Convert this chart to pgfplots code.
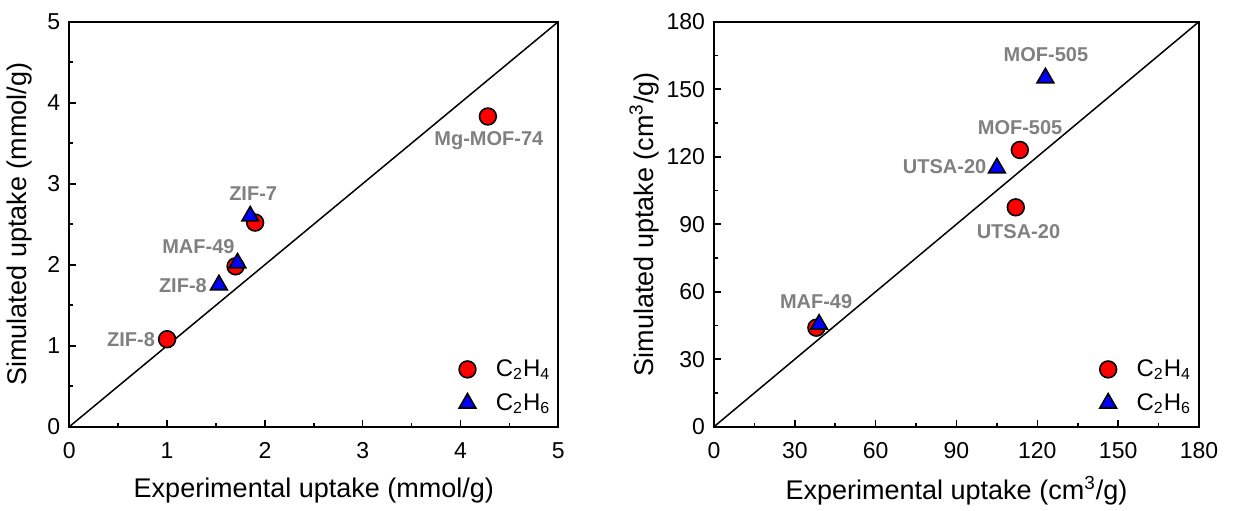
\documentclass[border=0pt]{standalone}
\usepackage{pgfplots}
\pgfplotsset{compat=1.18}
\usepackage{fontspec}
\setmainfont{Liberation Sans}
\definecolor{lblgray}{RGB}{128,128,128}
\definecolor{ptred}{RGB}{255,0,0}
\definecolor{ptblue}{RGB}{0,0,255}

\tikzset{lbl/.style={text=lblgray, font=\fontsize{10}{12}\selectfont\bfseries, inner sep=0pt}}
\pgfplotsset{
  uptake/.style={
    scale only axis,
    anchor=south west,
    height=202.5pt,
    axis line style={line width=1pt},
    tick align=inside,
    xtick pos=bottom, ytick pos=left,
    major tick length=3.5pt, minor tick length=2pt,
    every tick/.style={black, line width=0.8pt},
    minor tick num=1,
    /pgf/number format/assume math mode=true,
    tick label style={font=\fontsize{11.5}{13}\selectfont},
    xticklabel style={yshift=-4.5pt},
    yticklabel style={xshift=-1pt},
    label style={font=\fontsize{13.5}{15}\selectfont},
    xlabel style={at={(axis description cs:0.5,0)}, anchor=center, yshift=-32pt},
    ylabel style={at={(axis description cs:0,0.5)}, anchor=center},
    legend style={draw=none, fill=none, at={(1.005,0.013)}, anchor=south east,
      font=\fontsize{12}{14}\selectfont, row sep=3pt, column sep=8pt},
    legend cell align=left,
    clip=false,
  },
  c2h4/.style={only marks, mark=*, mark size=4.2pt,
    mark options={fill=ptred, draw=black, line width=0.8pt}},
  c2h6/.style={only marks, mark=triangle*, mark size=4.8pt,
    mark options={fill=ptblue, draw=black, line width=0.8pt}},
}

\begin{document}
\begin{tikzpicture}
\path[use as bounding box] (0,0) rectangle (622pt,255pt);

% left: mmol/g
\begin{axis}[uptake,
  at={(34.65pt,41.65pt)}, width=244.5pt,
  xmin=0, xmax=5, ymin=0, ymax=5,
  xtick={0,1,2,3,4,5}, ytick={0,1,2,3,4,5},
  xlabel={Experimental uptake (mmol/g)},
  ylabel={Simulated uptake (mmol/g)},
  ylabel style={yshift=25pt},
]
\addplot[black, line width=0.75pt, forget plot] coordinates {(0,0) (5,5)};
\addplot[c2h4] coordinates {(1.0,1.08) (1.7,1.98) (1.9,2.52) (4.28,3.83)};
\addlegendentry{C\textsubscript{2}H\textsubscript{4}}
\addplot[c2h6] coordinates {(1.53,1.75) (1.72,2.02) (1.85,2.6)};
\addlegendentry{C\textsubscript{2}H\textsubscript{6}}
\node[lbl] at (axis cs:4.29,3.53) {Mg-MOF-74};
\node[lbl] at (axis cs:1.88,2.88) {ZIF-7};
\node[lbl] at (axis cs:1.32,2.22) {MAF-49};
\node[lbl, anchor=east] at (axis cs:1.41,1.745) {ZIF-8};
\node[lbl, anchor=east] at (axis cs:0.88,1.07) {ZIF-8};
\end{axis}

% right: cm3/g
\begin{axis}[uptake,
  at={(357pt,41.65pt)}, width=242.5pt,
  xmin=0, xmax=180, ymin=0, ymax=180,
  xtick={0,30,...,180}, ytick={0,30,...,180},
  xlabel={Experimental uptake (cm\textsuperscript{3}/g)},
  ylabel={Simulated uptake (cm\textsuperscript{3}/g)},
  ylabel style={yshift=35pt},
]
\addplot[black, line width=0.75pt, forget plot] coordinates {(0,0) (180,180)};
\addplot[c2h4] coordinates {(38,44) (112,97.5) (113.5,123)};
\addlegendentry{C\textsubscript{2}H\textsubscript{4}}
\addplot[c2h6] coordinates {(39,45.5) (105,115) (123,155)};
\addlegendentry{C\textsubscript{2}H\textsubscript{6}}
\node[lbl] at (axis cs:123.2,165.2) {MOF-505};
\node[lbl] at (axis cs:113.6,133.1) {MOF-505};
\node[lbl, anchor=east] at (axis cs:101.2,115.8) {UTSA-20};
\node[lbl] at (axis cs:113,86.5) {UTSA-20};
\node[lbl] at (axis cs:37.9,55.5) {MAF-49};
\end{axis}
\end{tikzpicture}
\end{document}
